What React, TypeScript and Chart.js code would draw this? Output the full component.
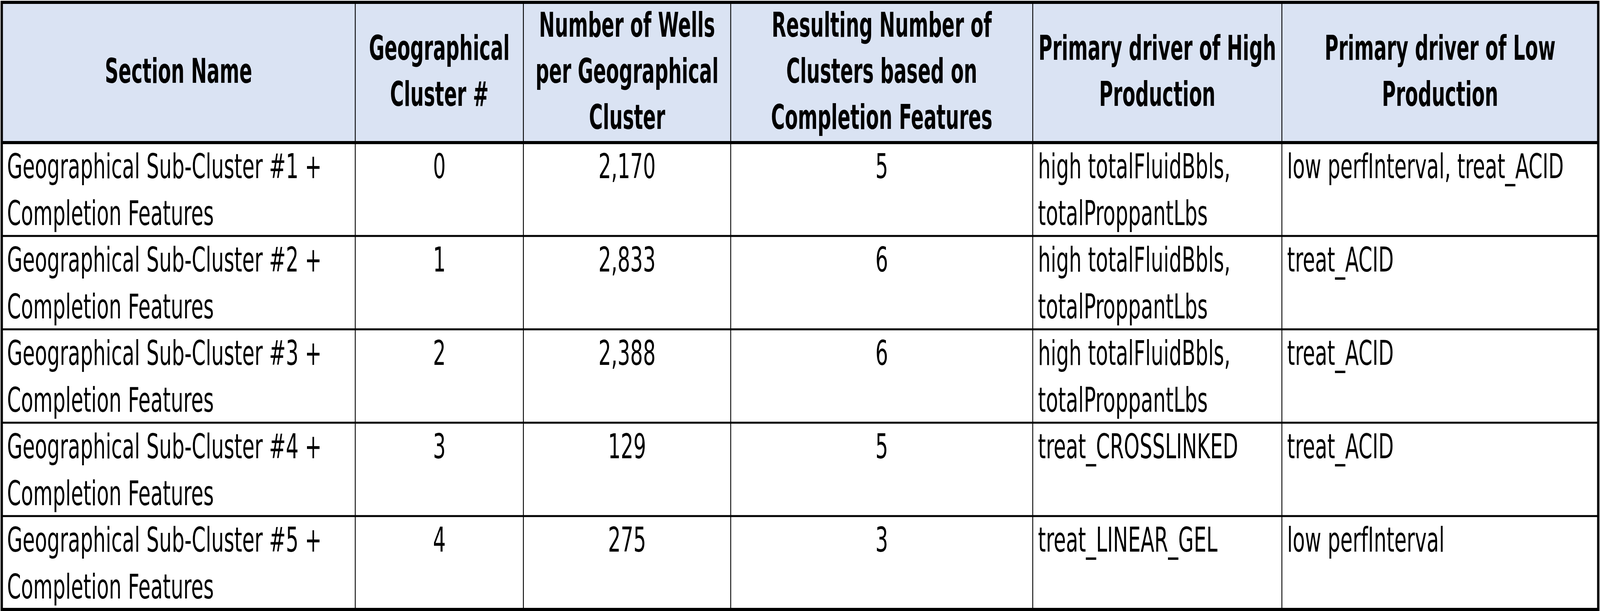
import React, { useEffect, useRef } from 'react';
import { Chart, registerables } from 'chart.js';

Chart.register(...registerables);

const headers: string[][] = [
  ['Section Name'],
  ['Geographical', 'Cluster #'],
  ['Number of Wells', 'per Geographical', 'Cluster'],
  ['Resulting Number of', 'Clusters based on', 'Completion Features'],
  ['Primary driver of High', 'Production'],
  ['Primary driver of Low', 'Production'],
];

const sectionNames = [1, 2, 3, 4, 5].map(n => [`Geographical Sub-Cluster #${n} +`, 'Completion Features']);
const clusterIds = ['0', '1', '2', '3', '4'];
const wellCounts = ['2,170', '2,833', '2,388', '129', '275'];
const resultingClusters = ['5', '6', '6', '5', '3'];
const highDrivers = [
  ['high totalFluidBbls,', 'totalProppantLbs'],
  ['high totalFluidBbls,', 'totalProppantLbs'],
  ['high totalFluidBbls,', 'totalProppantLbs'],
  ['treat_CROSSLINKED'],
  ['treat_LINEAR_GEL'],
];
const lowDrivers = [
  ['low perfInterval, treat_ACID'],
  ['treat_ACID'],
  ['treat_ACID'],
  ['treat_ACID'],
  ['low perfInterval'],
];

// layout in reference pixels; scaled to the actual chart size when drawn
const W = 5472;
const H = 1564;
const colEdges = [6, 1215, 1790, 2499, 3532, 4384, 5466];
const headerTop = 6;
const headerBottom = 365;
const rowH = 239;
const lineGap = 118;
const FONT = '"Liberation Sans Narrow", "DejaVu Sans Condensed", "Noto Sans", sans-serif';

const tablePlugin = {
  id: 'tablePlugin',
  afterDraw(chart: Chart) {
    const ctx = chart.ctx;
    ctx.save();
    ctx.scale(chart.width / W, chart.height / H);
    ctx.fillStyle = '#ffffff';
    ctx.fillRect(0, 0, W, H);
    ctx.fillStyle = '#dae3f3';
    ctx.fillRect(colEdges[0], headerTop, colEdges[6] - colEdges[0], headerBottom - headerTop);

    // horizontal squeeze so the font matches the reference widths
    ctx.font = `88px ${FONT}`;
    const sxN = 1076 / ctx.measureText('Geographical Sub-Cluster #1 +').width;
    ctx.font = `bold 88px ${FONT}`;
    const sxB = 813 / ctx.measureText('Primary driver of High').width;

    const text = (s: string, x: number, y: number, align: 'left' | 'center', bold: boolean) => {
      ctx.save();
      ctx.font = `${bold ? 'bold ' : ''}88px ${FONT}`;
      ctx.fillStyle = '#000000';
      ctx.textBaseline = 'middle';
      ctx.textAlign = align;
      ctx.translate(x, y);
      ctx.scale(bold ? sxB : sxN, 1);
      ctx.fillText(s, 0, 0);
      ctx.restore();
    };

    const hMid = (headerTop + headerBottom) / 2 + 4;
    headers.forEach((lines, c) => {
      const cx = (colEdges[c] + colEdges[c + 1]) / 2;
      lines.forEach((l, i) => text(l, cx, hMid + (i - (lines.length - 1) / 2) * lineGap, 'center', true));
    });

    const cols: string[][][] = [
      sectionNames,
      clusterIds.map(v => [v]),
      wellCounts.map(v => [v]),
      resultingClusters.map(v => [v]),
      highDrivers,
      lowDrivers,
    ];
    const leftAligned = [true, false, false, false, true, true];
    for (let r = 0; r < clusterIds.length; r++) {
      const top = headerBottom + r * rowH;
      cols.forEach((col, c) => {
        col[r].forEach((l, i) => {
          const y = top + 68 + i * 120;
          if (leftAligned[c]) text(l, colEdges[c] + 18, y, 'left', false);
          else text(l, (colEdges[c] + colEdges[c + 1]) / 2, y, 'center', false);
        });
      });
    }

    ctx.strokeStyle = '#000000';
    ctx.lineWidth = 3;
    for (let c = 1; c < colEdges.length - 1; c++) {
      ctx.beginPath();
      ctx.moveTo(colEdges[c], headerTop);
      ctx.lineTo(colEdges[c], headerBottom + rowH * 5);
      ctx.stroke();
    }
    ctx.lineWidth = 5;
    for (let r = 1; r < 5; r++) {
      const y = headerBottom + r * rowH;
      ctx.beginPath();
      ctx.moveTo(colEdges[0], y);
      ctx.lineTo(colEdges[6], y);
      ctx.stroke();
    }
    ctx.lineWidth = 8;
    ctx.beginPath();
    ctx.moveTo(colEdges[0], headerBottom);
    ctx.lineTo(colEdges[6], headerBottom);
    ctx.stroke();
    ctx.strokeRect(colEdges[0], headerTop, colEdges[6] - colEdges[0], headerBottom + rowH * 5 - headerTop);
    ctx.restore();
  },
};

const App: React.FC = () => {
  const canvasRef = useRef<HTMLCanvasElement>(null);
  const chartRef = useRef<Chart | null>(null);

  useEffect(() => {
    document.body.style.margin = '0';
    document.body.style.overflow = 'hidden';
    if (!canvasRef.current) return;
    if (chartRef.current) chartRef.current.destroy();
    const ctx = canvasRef.current.getContext('2d');
    if (!ctx) return;

    chartRef.current = new Chart(ctx, {
      type: 'bar',
      data: {
        labels: clusterIds,
        datasets: [{ label: 'Number of Wells', data: [], backgroundColor: 'transparent' }],
      },
      options: {
        animation: false,
        responsive: true,
        maintainAspectRatio: false,
        events: [],
        plugins: { legend: { display: false }, tooltip: { enabled: false } },
        scales: { x: { display: false }, y: { display: false } },
      },
      plugins: [tablePlugin],
    });

    return () => {
      if (chartRef.current) {
        chartRef.current.destroy();
        chartRef.current = null;
      }
    };
  }, []);

  return (
    <div style={{ position: 'relative', width: '100vw', height: '100vh' }}>
      <canvas ref={canvasRef} />
    </div>
  );
};

export default App;
